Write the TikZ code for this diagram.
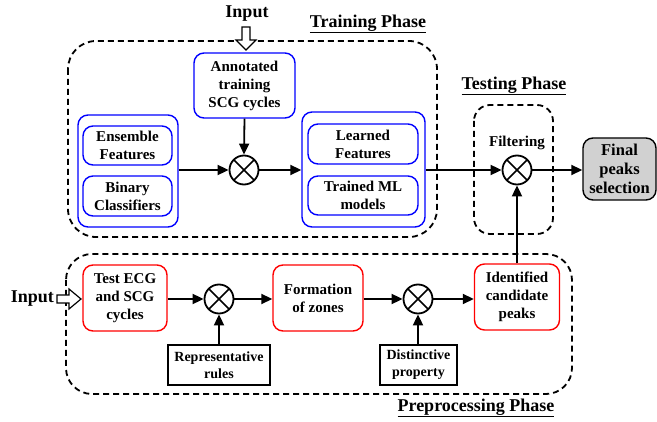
\documentclass[tikz,border=0pt]{standalone}
\usepackage{fontspec}
\setmainfont{Liberation Serif}
\usetikzlibrary{arrows.meta}
\begin{document}
\begin{tikzpicture}[x=1pt,y=-1pt,
  txt/.style={font=\fontsize{15}{18}\selectfont\bfseries, align=center, inner sep=0pt},
  big/.style={font=\fontsize{18}{21}\selectfont\bfseries, inner sep=0pt},
  bluebox/.style={txt, draw=blue, line width=1.4pt, rounded corners=10pt},
  redbox/.style={txt, draw=red, line width=1.4pt, rounded corners=10pt},
  rulebox/.style={txt, font=\fontsize{14}{17}\selectfont\bfseries, draw=black, line width=1.6pt},
  phase/.style={draw=black, line width=1.8pt, dash pattern=on 6pt off 4pt},
  mult/.style={circle, draw=black, line width=1.8pt, minimum size=29pt, inner sep=0pt,
    path picture={\draw[line width=1.5pt]
      (path picture bounding box.north west) -- (path picture bounding box.south east)
      (path picture bounding box.north east) -- (path picture bounding box.south west);}},
  arr/.style={line width=1.8pt, -{Triangle[length=11pt,width=10pt]}},
  hollow/.style={draw=black, line width=1.2pt, fill=white}]
\useasboundingbox (0,0) rectangle (657,422);

% phase boxes
\draw[phase, rounded corners=28pt] (68,41) rectangle (437,237);
\draw[phase, rounded corners=16pt] (474,105) rectangle (553,234);
\draw[phase, rounded corners=26pt] (66,254) rectangle (572,394);

% phase labels
\node[big] (lbltrain) at (368,24) {\underline{Training Phase}};
\node[big] (lbltest) at (514,86) {\underline{Testing Phase}};
\node[big] (lblpre) at (476,408) {\underline{Preprocessing Phase}};

% training phase
\node[big] (in1) at (247,14) {Input};
\draw[hollow] (242,27) -- (250,27) -- (250,40) -- (256,40) -- (246,50) -- (236,40) -- (242,40) -- cycle;
\node[bluebox, minimum width=101pt, minimum height=65pt] (ann) at (244.5,85.5) {Annotated\\training\\SCG cycles};
\node[bluebox, minimum width=100pt, minimum height=112pt] (lout) at (128,171) {};
\node[bluebox, minimum width=89pt, minimum height=39pt] (ens) at (127.5,145.5) {Ensemble\\Features};
\node[bluebox, minimum width=89pt, minimum height=40pt] (bin) at (127.5,196) {Binary\\Classifiers};
\node[mult] (c1) at (244,170) {};
\node[bluebox, minimum width=123pt, minimum height=115pt] (rout) at (363.5,169.5) {};
\node[bluebox, minimum width=110pt, minimum height=40pt] (learn) at (363,144) {Learned\\Features};
\node[bluebox, minimum width=110pt, minimum height=39pt] (trained) at (363,195.5) {Trained ML\\models};

\draw[arr] (ann.south) -- (c1.north);
\draw[arr] (lout.east |- c1) -- (c1.west);
\draw[arr] (c1.east) -- (rout.west |- c1);

% testing phase
\node[mult] (filt) at (517,170) {};
\node[txt] (filtlbl) at (517,143) {Filtering};
\node[txt, font=\fontsize{16.5}{19}\selectfont\bfseries, draw=black, line width=1.4pt,
  rounded corners=10pt, fill=black!18,
  minimum width=73pt, minimum height=62pt] (final) at (619.5,169) {Final\\peaks\\selection};
\draw[arr] (rout.east |- filt) -- (filt.west);
\draw[arr] (filt.east) -- (final.west |- filt);

% preprocessing phase
\node[big, anchor=east] (in2) at (54,299) {Input};
\draw[hollow] (57,295) -- (69,295) -- (69,289) -- (81,299) -- (69,309) -- (69,303) -- (57,303) -- cycle;
\node[redbox, minimum width=84pt, minimum height=66pt] (test) at (125,298) {Test ECG\\and SCG\\cycles};
\node[mult] (cA) at (219,299) {};
\node[rulebox, minimum width=102pt, minimum height=40pt] (rep) at (219,365) {Representative\\rules};
\node[redbox, minimum width=90pt, minimum height=66pt] (form) at (318,298) {Formation\\of zones};
\node[mult] (cB) at (418,299) {};
\node[rulebox, minimum width=77pt, minimum height=40pt] (dist) at (418.5,365) {Distinctive\\property};
\node[redbox, minimum width=85pt, minimum height=66pt] (ident) at (517,297) {Identified\\candidate\\peaks};

\draw[arr] (test.east |- cA) -- (cA.west);
\draw[arr] (cA.east) -- (form.west |- cA);
\draw[arr] (rep.north) -- (cA.south);
\draw[arr] (form.east |- cB) -- (cB.west);
\draw[arr] (cB.east) -- (ident.west |- cB);
\draw[arr] (dist.north -| cB) -- (cB.south);
\draw[arr] (ident.north) -- (filt.south);
\end{tikzpicture}
\end{document}
